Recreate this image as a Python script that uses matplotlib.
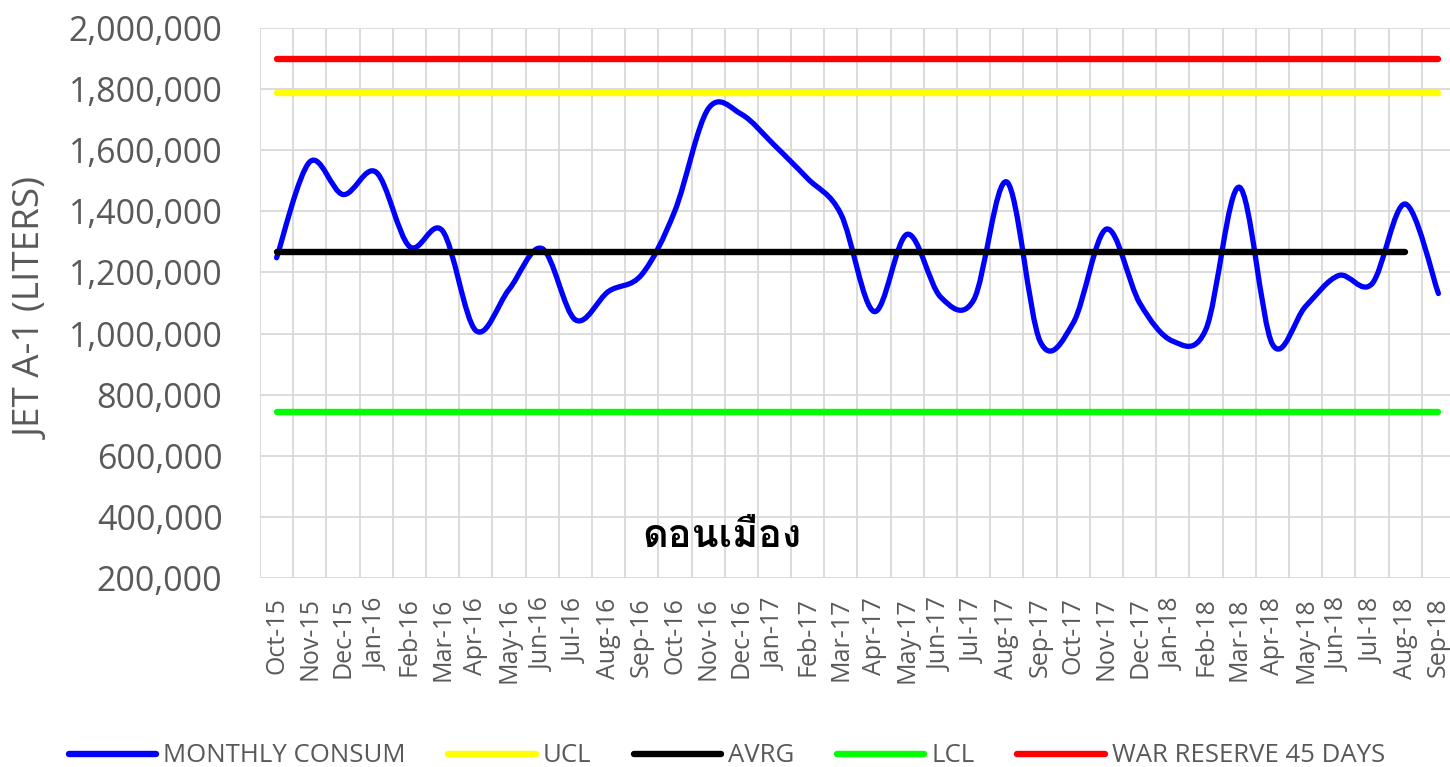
import matplotlib
matplotlib.use("Agg")
import matplotlib.pyplot as plt
from matplotlib.path import Path
from matplotlib.patches import PathPatch
from matplotlib.lines import Line2D
from matplotlib.ticker import FuncFormatter, FixedLocator
from matplotlib import font_manager
from matplotlib.ft2font import FT2Font

# ---------------- data ----------------
months = ["Oct-15", "Nov-15", "Dec-15", "Jan-16", "Feb-16", "Mar-16", "Apr-16", "May-16",
          "Jun-16", "Jul-16", "Aug-16", "Sep-16", "Oct-16", "Nov-16", "Dec-16", "Jan-17",
          "Feb-17", "Mar-17", "Apr-17", "May-17", "Jun-17", "Jul-17", "Aug-17", "Sep-17",
          "Oct-17", "Nov-17", "Dec-17", "Jan-18", "Feb-18", "Mar-18", "Apr-18", "May-18",
          "Jun-18", "Jul-18", "Aug-18", "Sep-18"]
monthly_consum = [1248000, 1562000, 1455000, 1528000, 1285000, 1336000, 1010000, 1144000,
                  1278000, 1045000, 1138000, 1193000, 1402000, 1735000, 1718000, 1616000,
                  1507000, 1391000, 1072000, 1325000, 1120000, 1110000, 1496000, 975000,
                  1035000, 1342000, 1100000, 975000, 1015000, 1479000, 965000, 1089000,
                  1190000, 1163000, 1424000, 1131000]
ucl_value = 1786000
avrg_value = 1267000
lcl_value = 744000
war_reserve_value = 1900000
ucl = [ucl_value] * len(months)
avrg = [avrg_value] * (len(months) - 1)
lcl = [lcl_value] * len(months)
war_reserve = [war_reserve_value] * len(months)
y_ticks = list(range(200000, 2000001, 200000))
series_labels = ["MONTHLY CONSUM", "UCL", "AVRG", "LCL", "WAR RESERVE 45 DAYS"]
title_text = "ดอนเมือง"
ylabel_text = "JET A-1 (LITERS)"

# ---------------- fonts ----------------
def find_thai_font():
    best = None
    for f in font_manager.fontManager.ttflist:
        try:
            cm = FT2Font(f.fname).get_charmap()
        except Exception:
            continue
        if 0x0E14 in cm and 0x0E2D in cm and 0x0E37 in cm:
            if f.weight in ("bold", 700) or (isinstance(f.weight, int) and f.weight >= 600):
                return f.name
            if best is None:
                best = f.name
    return best

thai_font = find_thai_font()
plt.rcParams['font.family'] = ['Open Sans', 'DejaVu Sans']

GRAY = "#595959"
GRID = "#D9D9D9"

fig = plt.figure(figsize=(14.5, 7.67), dpi=100)
ax = fig.add_axes([260 / 1450, 1 - 578 / 767, 1195 / 1450, 550 / 767])

x = list(range(len(months)))


def smooth_path(xs, ys):
    n = len(xs)
    verts = [(xs[0], ys[0])]
    codes = [Path.MOVETO]
    for i in range(n - 1):
        p0 = i - 1 if i > 0 else i
        p3 = i + 2 if i + 2 < n else i + 1
        c1 = (xs[i] + (xs[i + 1] - xs[p0]) / 6.0, ys[i] + (ys[i + 1] - ys[p0]) / 6.0)
        c2 = (xs[i + 1] - (xs[p3] - xs[i]) / 6.0, ys[i + 1] - (ys[p3] - ys[i]) / 6.0)
        verts += [c1, c2, (xs[i + 1], ys[i + 1])]
        codes += [Path.CURVE4] * 3
    return Path(verts, codes)


blue_lw = 3.8
flat_lw = 4.6
patch = PathPatch(smooth_path(x, monthly_consum), facecolor="none", edgecolor="#0000FF",
                  lw=blue_lw, capstyle="round", joinstyle="round", zorder=3)
ax.add_patch(patch)
ax.plot(x, ucl, color="#FFFF00", lw=flat_lw, solid_capstyle="round", zorder=4)
ax.plot(x[:len(avrg)], avrg, color="#000000", lw=flat_lw, solid_capstyle="round", zorder=5)
ax.plot(x, lcl, color="#00FF00", lw=flat_lw, solid_capstyle="round", zorder=6)
ax.plot(x, war_reserve, color="#FF0000", lw=flat_lw, solid_capstyle="round", zorder=7)

ax.set_xlim(-0.5, len(months) - 0.5)
ax.set_ylim(200000, 2000000)
ax.set_yticks(y_ticks)
ax.yaxis.set_major_formatter(FuncFormatter(lambda v, p: f"{int(v):,}"))
ax.set_xticks(x)
ax.set_xticklabels(months, rotation=90)
ax.xaxis.set_minor_locator(FixedLocator([i - 0.5 for i in range(len(months) + 1)]))

ax.grid(False)
ax.yaxis.grid(True, which="major", color=GRID, lw=1.3, zorder=0)
ax.xaxis.grid(True, which="minor", color=GRID, lw=1.3, zorder=0)
ax.set_axisbelow(True)
for s in ax.spines.values():
    s.set_visible(False)
ax.tick_params(axis="both", which="both", length=0)
ax.tick_params(axis="y", labelsize=24.5, labelcolor=GRAY, pad=27)
ax.tick_params(axis="x", labelsize=18, labelcolor=GRAY, pad=14)

ax.set_ylabel(ylabel_text, fontsize=26.5, color=GRAY)
ax.yaxis.set_label_coords((51 - 260) / 1195, 0.49)

title_family = [thai_font, 'DejaVu Sans'] if thai_font else ['DejaVu Sans']
ax.text((722 - 260) / 1195, (578 - 537) / 550, title_text, transform=ax.transAxes,
        ha="center", va="center", fontsize=28.5, fontweight="bold", color="black",
        family=title_family, zorder=10)

handles = [Line2D([], [], color=c, lw=flat_lw, solid_capstyle="round")
           for c in ["#0000FF", "#FFFF00", "#000000", "#00FF00", "#FF0000"]]
leg = fig.legend(handles, series_labels, loc="center", ncol=5, frameon=False,
                 bbox_to_anchor=(727 / 1450, 1 - 756 / 767), fontsize=18.5,
                 handlelength=3.4, handletextpad=0.28, columnspacing=1.65, labelcolor=GRAY)

fig.savefig("out.png", dpi=100)
